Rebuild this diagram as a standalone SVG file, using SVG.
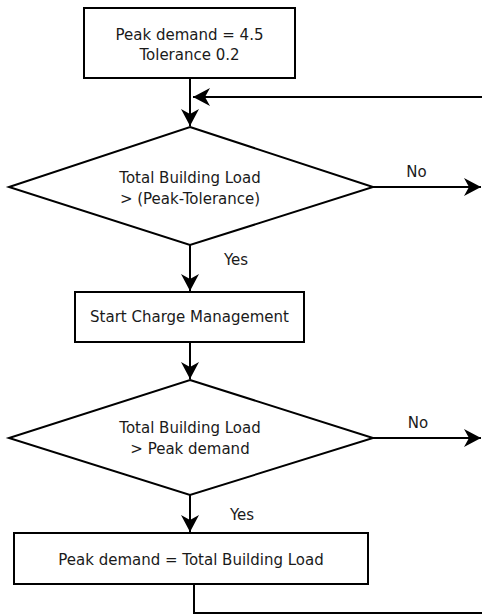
<svg xmlns="http://www.w3.org/2000/svg" width="482" height="615" viewBox="0 0 482 615">
<style>
.shape{fill:#fff;stroke:#000;stroke-width:2}
.edge{fill:none;stroke:#000;stroke-width:2}
text{font-family:"DejaVu Sans",Verdana,sans-serif;font-size:15px;fill:#1a1a1a;text-anchor:middle}
</style>
<defs>
<marker id="arr" markerUnits="userSpaceOnUse" viewBox="-18 -10 19 20" refX="0" refY="0" markerWidth="19" markerHeight="20" orient="auto">
<path d="M0,0 L-17,-9 L-12,0 L-17,9 Z" fill="#000"/>
</marker>
</defs>
<g id="connectors">
<path class="edge" d="M190,78 L190,126" marker-end="url(#arr)"/>
<path class="edge" d="M482,97 L193,97" marker-end="url(#arr)"/>
<path class="edge" d="M373,187 L481,187" marker-end="url(#arr)"/>
<path class="edge" d="M190,245 L190,291" marker-end="url(#arr)"/>
<path class="edge" d="M190,342 L190,379" marker-end="url(#arr)"/>
<path class="edge" d="M373,438 L481,438" marker-end="url(#arr)"/>
<path class="edge" d="M190,495 L190,532" marker-end="url(#arr)"/>
<path class="edge" d="M194,584 L194,613 L482,613"/>
<text x="416.5" y="177">No</text>
<text x="236" y="265">Yes</text>
<text x="418" y="428">No</text>
<text x="242" y="520">Yes</text>
</g>
<g id="init">
<rect class="shape" x="84" y="8" width="211" height="70"/>
<text x="189.5" y="40">Peak demand = 4.5</text>
<text x="189.5" y="60">Tolerance 0.2</text>
</g>
<g id="decision1">
<polygon class="shape" points="190,127 373,187 190,245 9,187"/>
<text x="190" y="183">Total Building Load</text>
<text x="190" y="204">&gt; (Peak-Tolerance)</text>
</g>
<g id="startCharge">
<rect class="shape" x="75" y="292" width="229" height="50"/>
<text x="189.5" y="322">Start Charge Management</text>
</g>
<g id="decision2">
<polygon class="shape" points="190,380 373,438 190,495 9,438"/>
<text x="190" y="433">Total Building Load</text>
<text x="190" y="454">&gt; Peak demand</text>
</g>
<g id="update">
<rect class="shape" x="14" y="533" width="354" height="51"/>
<text x="191" y="565">Peak demand = Total Building Load</text>
</g>
</svg>
